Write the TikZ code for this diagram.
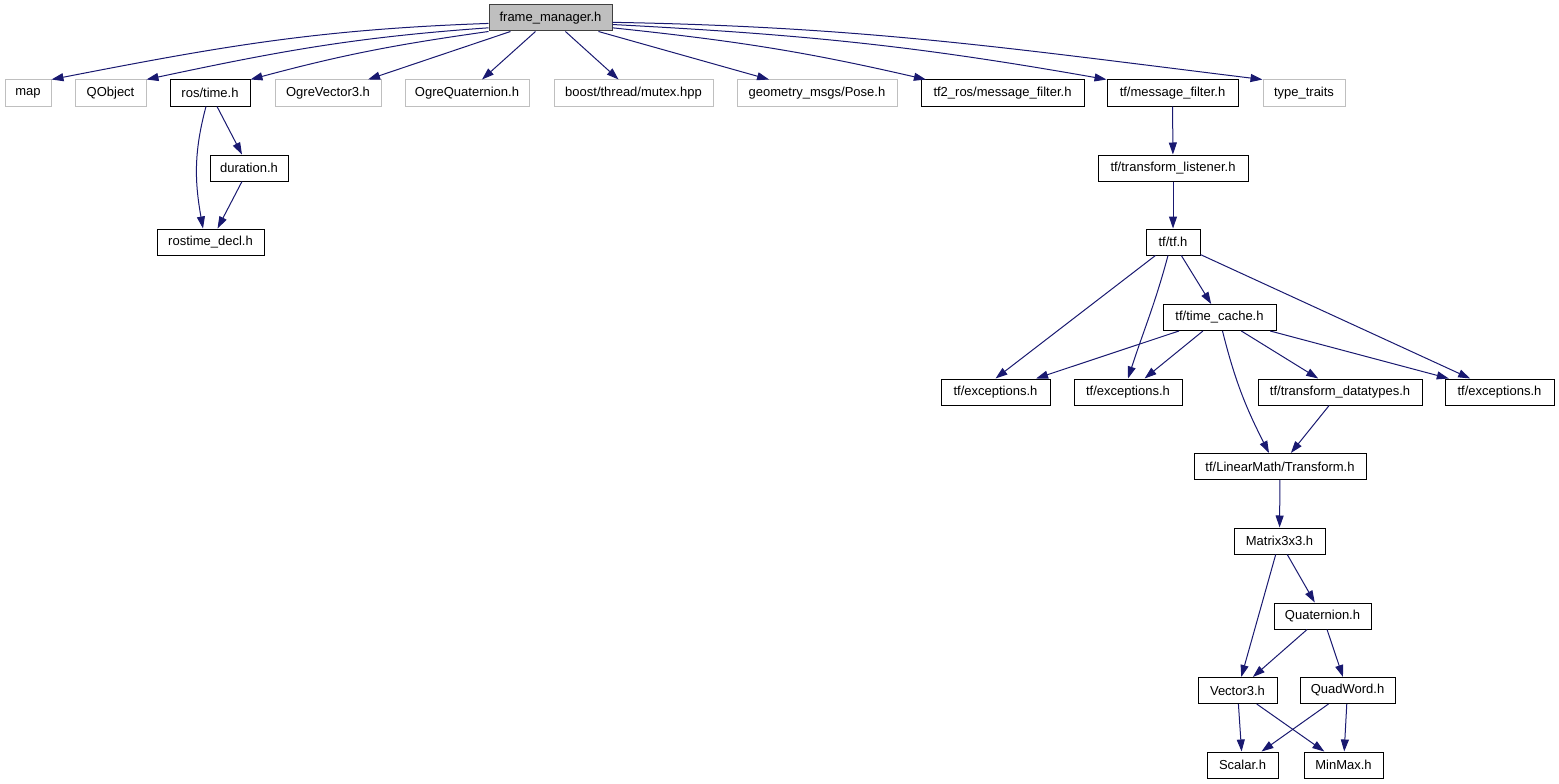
\documentclass[tikz,border=0pt]{standalone}
\usepackage{fontspec}
\setmainfont{Liberation Sans}
\usetikzlibrary{arrows.meta}

\definecolor{edgeblue}{HTML}{191970}
\definecolor{boxgray}{HTML}{BFBFBF}
\tikzset{
  hdr/.style={draw=black, line width=1pt, minimum width=#1, minimum height=26pt, inner sep=0pt, font=\fontsize{13}{15}\selectfont},
  ext/.style={hdr=#1, draw=boxgray},
  root/.style={hdr=#1, draw=black!75, fill=boxgray},
  dep/.style={draw=edgeblue, line width=1pt, -{Triangle[length=12pt,width=8pt]}, fill=none}
}

\begin{document}
\begin{tikzpicture}[x=1pt,y=1pt]
\useasboundingbox (0,0) rectangle (1559,-784);
% the file and what it includes
\node [root=123] (fm) at (550.5,-18) {frame\_manager.h};
\node [ext=46]  (map)      at (28,-93)    {map};
\node [ext=71]  (qobj)     at (110.5,-93) {QObject};
\node [hdr=80]  (rostime)  at (210,-93)   {ros/time.h};
\node [ext=106] (ogrevec)  at (328,-93)   {OgreVector3.h};
\node [ext=124] (ogrequat) at (467,-93)   {OgreQuaternion.h};
\node [ext=159] (mutex)    at (633.5,-93) {boost/thread/mutex.hpp};
\node [ext=160] (pose)     at (817,-93)   {geometry\_msgs/Pose.h};
\node [hdr=163] (tf2mf)    at (1002.5,-93) {tf2\_ros/message\_filter.h};
\node [hdr=131] (tfmf)     at (1172.5,-93) {tf/message\_filter.h};
\node [ext=82]  (typetr)   at (1304,-93)  {type\_traits};
% ros time
\node [hdr=78]  (duration)    at (249,-168)   {duration.h};
\node [hdr=107] (rostimedecl) at (210.5,-242) {rostime\_decl.h};
% tf chain
\node [hdr=150] (listener)   at (1173,-168)    {tf/transform\_listener.h};
\node [hdr=54]  (tf)         at (1173,-242)    {tf/tf.h};
\node [hdr=113] (timecache)  at (1219.5,-317.5) {tf/time\_cache.h};
\node [hdr=109] (exca)       at (995.5,-392)   {tf/exceptions.h};
\node [hdr=108] (excb)       at (1128,-392)    {tf/exceptions.h};
\node [hdr=164] (datatypes)  at (1340,-392)    {tf/transform\_datatypes.h};
\node [hdr=109] (excc)       at (1499.5,-392)  {tf/exceptions.h};
\node [hdr=172] (transform)  at (1280,-466.5)  {tf/LinearMath/Transform.h};
\node [hdr=91]  (matrix)     at (1279.5,-541)  {Matrix3x3.h};
\node [hdr=97]  (quaternion) at (1322.5,-616)  {Quaternion.h};
\node [hdr=79]  (vector)     at (1237.5,-690.5) {Vector3.h};
\node [hdr=95]  (quadword)   at (1347.5,-690.5) {QuadWord.h};
\node [hdr=71]  (scalar)     at (1242.5,-765)  {Scalar.h};
\node [hdr=79]  (minmax)     at (1343.5,-765)  {MinMax.h};

% includes of frame_manager.h
\draw [dep] (fm.185) to[out=182,in=11] (map.north east);
\draw [dep] (fm.189) to[out=184,in=12] (qobj.north east);
\draw [dep] (fm.south west) to[out=188,in=15] (rostime.north east);
\draw [dep] (fm) -- (ogrevec);
\draw [dep] (fm) -- (ogrequat);
\draw [dep] (fm) -- (mutex);
\draw [dep] (fm) -- (pose);
\draw [dep] (fm.-9) to[out=-6,in=167] (tf2mf.170);
\draw [dep] (fm.-6) to[out=-3,in=170] (tfmf.north west);
\draw [dep] (fm.-4) to[out=-1,in=173] (typetr.north west);

\draw [dep] (rostime) -- (duration);
\draw [dep] ([xshift=-4pt]rostime.south) to[out=-105,in=100] ([xshift=-7.5pt]rostimedecl.north);
\draw [dep] (duration) -- (rostimedecl);

\draw [dep] (tfmf) -- (listener);
\draw [dep] (listener) -- (tf);
\draw [dep] (tf) -- (exca.north);
\draw [dep] ([xshift=-5pt]tf.south) to[out=-105,in=72] (excb.north);
\draw [dep] (tf) -- (timecache);
\draw [dep] (tf) -- (excc);
\draw [dep] (timecache) -- (exca);
\draw [dep] (timecache) -- (excb);
\draw [dep] ([xshift=3pt]timecache.south) to[out=-76,in=117] ([xshift=-11pt]transform.north);
\draw [dep] (timecache) -- (datatypes);
\draw [dep] (timecache) -- (excc);
\draw [dep] (datatypes) -- (transform);
\draw [dep] (transform) -- (matrix);
\draw [dep] (matrix) -- (vector);
\draw [dep] (matrix) -- (quaternion);
\draw [dep] (quaternion) -- (vector);
\draw [dep] (quaternion) -- (quadword);
\draw [dep] (vector) -- (scalar);
\draw [dep] (vector) -- (minmax);
\draw [dep] (quadword) -- (scalar);
\draw [dep] (quadword) -- (minmax);
\end{tikzpicture}
\end{document}
